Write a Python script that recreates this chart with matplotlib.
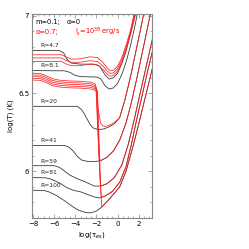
import matplotlib
matplotlib.use("Agg")
import matplotlib.pyplot as plt
from matplotlib.ticker import MultipleLocator

# curve labels (black curves, m=0.1, alpha=0)
labels = ["R=4.7", "R=8.1", "R=20", "R=41", "R=59", "R=81", "R=100"]

# black curves: log(tau_es) / log(T)
r47_x = [-8.2, -5.5, -5.1, -4.8, -4.4, -3.5, -2.2, -1.7, -1.2, -0.8, -0.4, 0.0, 0.4, 0.8, 1.2, 1.62, 1.8]
r47_y = [6.775, 6.775, 6.76, 6.72, 6.695, 6.688, 6.688, 6.675, 6.62, 6.592, 6.60, 6.63, 6.69, 6.77, 6.88, 7.0, 7.05]

r81_x = [-8.2, -5.0, -4.5, -4.0, -3.5, -2.0, -1.6, -1.2, -0.8, -0.4, 0.0, 0.4, 0.8, 1.2, 1.6, 1.9]
r81_y = [6.647, 6.645, 6.635, 6.615, 6.608, 6.605, 6.595, 6.55, 6.528, 6.535, 6.565, 6.62, 6.70, 6.80, 6.92, 7.02]

r20_x = [-8.2, -3.8, -3.4, -3.1, -2.6, -2.3, -1.8, -1.3, -0.8, -0.3, 0.2, 0.7, 1.2, 1.7, 2.2, 2.5]
r20_y = [6.417, 6.417, 6.395, 6.363, 6.30, 6.278, 6.267, 6.272, 6.285, 6.305, 6.345, 6.46, 6.60, 6.76, 6.92, 7.02]

r41_x = [-8.2, -5.0, -4.6, -4.2, -3.8, -3.4, -2.8, -2.2, -1.6, -1.0, -0.4, 0.2, 0.8, 1.3, 1.8, 2.3, 2.8, 3.1]
r41_y = [6.165, 6.165, 6.155, 6.13, 6.095, 6.072, 6.063, 6.062, 6.068, 6.09, 6.13, 6.20, 6.31, 6.44, 6.59, 6.75, 6.91, 7.01]

r59_x = [-8.2, -6.0, -5.5, -5.0, -4.5, -4.0, -3.0, -2.2, -1.6, -1.0, -0.3, 0.4, 1.0, 1.5, 2.0, 2.5, 3.0, 3.4]
r59_y = [6.036, 6.036, 6.025, 6.0, 5.975, 5.958, 5.93, 5.905, 5.905, 5.92, 5.96, 6.04, 6.17, 6.31, 6.46, 6.61, 6.76, 6.88]

r81b_x = [-8.2, -6.8, -6.3, -5.5, -4.8, -4.2, -3.5, -2.8, -2.2, -1.7, -1.2, -0.5, 0.2, 0.8, 1.3, 1.8, 2.3, 2.8, 3.4]
r81b_y = [5.96, 5.958, 5.95, 5.925, 5.895, 5.878, 5.868, 5.85, 5.835, 5.828, 5.84, 5.87, 5.93, 6.03, 6.17, 6.33, 6.48, 6.63, 6.80]

r100_x = [-8.2, -7.0, -6.5, -5.8, -5.0, -4.3, -3.7, -3.0, -2.5, -2.0, -1.5, -0.8, 0.2, 0.8, 1.5, 2.1, 2.6, 3.0, 3.4]
r100_y = [5.878, 5.877, 5.868, 5.845, 5.81, 5.775, 5.75, 5.735, 5.733, 5.745, 5.77, 5.82, 5.90, 6.0, 6.17, 6.33, 6.47, 6.58, 6.69]

# red curves (alpha=0.7), upper group
ra_x = [-8.2, -5.3, -4.9, -4.4, -3.6, -2.6, -1.9, -1.4, -1.0, -0.7, -0.4, 0.0, 0.4, 0.8, 1.2, 1.6]
ra_y = [6.748, 6.748, 6.735, 6.72, 6.722, 6.735, 6.73, 6.70, 6.665, 6.645, 6.648, 6.675, 6.73, 6.81, 6.90, 7.02]
rb_x = [-8.2, -5.3, -4.9, -4.4, -3.6, -2.6, -1.9, -1.4, -1.0, -0.7, -0.4, 0.0, 0.4, 0.8, 1.2, 1.65]
rb_y = [6.728, 6.728, 6.712, 6.70, 6.70, 6.71, 6.705, 6.678, 6.645, 6.628, 6.632, 6.66, 6.715, 6.795, 6.885, 7.02]
rc_x = [-8.2, -5.3, -4.9, -4.4, -3.6, -2.6, -1.9, -1.4, -1.0, -0.7, -0.4, 0.0, 0.4, 0.8, 1.2, 1.75]
rc_y = [6.705, 6.705, 6.69, 6.678, 6.678, 6.688, 6.683, 6.655, 6.625, 6.61, 6.615, 6.645, 6.70, 6.78, 6.87, 7.02]

# red curves, lower group: plateau, steep drop at log(tau)~-2, then rising branch
rl1_x = [-8.2, -7.3, -6.8, -6.2, -5.5, -4.5, -3.5, -2.5, -2.1, -1.95, -1.8, -1.6, -1.4, -1.2, -0.9, -0.5, 0.0, 0.2, 0.7, 1.2, 1.7, 2.2, 2.5]
rl1_y = [6.63, 6.628, 6.615, 6.595, 6.585, 6.58, 6.578, 6.572, 6.56, 6.47, 6.38, 6.31, 6.292, 6.288, 6.292, 6.305, 6.33, 6.345, 6.46, 6.60, 6.76, 6.92, 7.02]

rl2_x = [-8.2, -7.3, -6.8, -6.2, -5.5, -4.5, -3.5, -2.5, -2.05, -1.9, -1.75, -1.6, -1.0, -0.4, 0.2, 0.8, 1.3, 1.8, 2.3, 2.8, 3.1]
rl2_y = [6.619, 6.617, 6.604, 6.584, 6.574, 6.569, 6.567, 6.561, 6.545, 6.30, 6.09, 6.068, 6.09, 6.13, 6.20, 6.31, 6.44, 6.59, 6.75, 6.91, 7.01]

rl3_x = [-8.2, -7.3, -6.8, -6.2, -5.5, -4.5, -3.5, -2.5, -2.0, -1.85, -1.7, -1.58, -1.0, -0.3, 0.4, 1.0, 1.5, 2.0, 2.5, 3.0, 3.4]
rl3_y = [6.608, 6.606, 6.593, 6.573, 6.563, 6.558, 6.556, 6.55, 6.535, 6.25, 6.0, 5.905, 5.92, 5.96, 6.04, 6.17, 6.31, 6.46, 6.61, 6.76, 6.88]

rl4_x = [-8.2, -7.3, -6.8, -6.2, -5.5, -4.5, -3.5, -2.5, -1.95, -1.8, -1.65, -1.55, -1.2, -0.5, 0.2, 0.8, 1.3, 1.8, 2.3, 2.8, 3.4]
rl4_y = [6.597, 6.595, 6.582, 6.562, 6.552, 6.547, 6.545, 6.539, 6.525, 6.20, 5.93, 5.835, 5.84, 5.87, 5.93, 6.03, 6.17, 6.33, 6.48, 6.63, 6.80]

rl5_x = [-8.2, -7.3, -6.8, -6.2, -5.5, -4.5, -3.5, -2.5, -1.9, -1.75, -1.6, -1.5, -0.8, 0.2, 0.8, 1.5, 2.1, 2.6, 3.0, 3.4]
rl5_y = [6.586, 6.584, 6.571, 6.551, 6.541, 6.536, 6.534, 6.528, 6.515, 6.20, 5.90, 5.77, 5.82, 5.90, 6.0, 6.17, 6.33, 6.47, 6.58, 6.69]

black_curves = [(r47_x, r47_y), (r81_x, r81_y), (r20_x, r20_y), (r41_x, r41_y),
                (r59_x, r59_y), (r81b_x, r81b_y), (r100_x, r100_y)]
red_curves = [(ra_x, ra_y), (rb_x, rb_y), (rc_x, rc_y), (rl1_x, rl1_y),
              (rl2_x, rl2_y), (rl3_x, rl3_y), (rl4_x, rl4_y), (rl5_x, rl5_y)]

fig = plt.figure(figsize=(2.49, 2.49), dpi=100)
ax = fig.add_axes([0.1285, 0.1245, 0.482, 0.8193])

for xs, ys in black_curves:
    ax.plot(xs, ys, color="#3a3a3a", lw=0.6)
for xs, ys in red_curves:
    ax.plot(xs, ys, color="#ff2020", lw=0.55)

# R labels just above each plateau
for lab, (xs, ys) in zip(labels, black_curves):
    ax.text(-7.35, ys[0] + 0.03, lab, fontsize=4.3, ha="left", va="center", color="#222222")

# header, two rows
ax.text(0.03, 0.962, "m=0.1;", transform=ax.transAxes, fontsize=4.8,
        ha="left", va="center", color="black")
ax.text(0.29, 0.962, "α=0", transform=ax.transAxes, fontsize=4.8,
        ha="left", va="center", color="black")
ax.text(0.03, 0.912, "α=0.7;", transform=ax.transAxes, fontsize=4.8,
        ha="left", va="center", color="red")
ax.text(0.36, 0.912, "l$_s$=10$^{38}$ erg/s", transform=ax.transAxes, fontsize=4.8,
        ha="left", va="center", color="red")

ax.set_xlim(-8.1, 3.26)
ax.set_ylim(5.70, 7.01)
ax.xaxis.set_major_locator(MultipleLocator(2))
ax.xaxis.set_minor_locator(MultipleLocator(0.5))
ax.yaxis.set_minor_locator(MultipleLocator(0.1))
ax.set_yticks([6, 6.5, 7])
ax.set_yticklabels(["6", "6.5", "7"])

ax.tick_params(which="both", direction="in", top=True, right=True,
               color="#888888", labelsize=5, pad=2)
ax.tick_params(which="major", length=3, width=0.5)
ax.tick_params(which="minor", length=1.5, width=0.5)
for sp in ax.spines.values():
    sp.set_color("#888888")
    sp.set_linewidth(0.8)

ax.set_xlabel("log(τ$_{es}$)", fontsize=5, labelpad=2)
ax.set_ylabel("log(T) (K)", fontsize=5, labelpad=3)

fig.savefig("out.png", dpi=100)
